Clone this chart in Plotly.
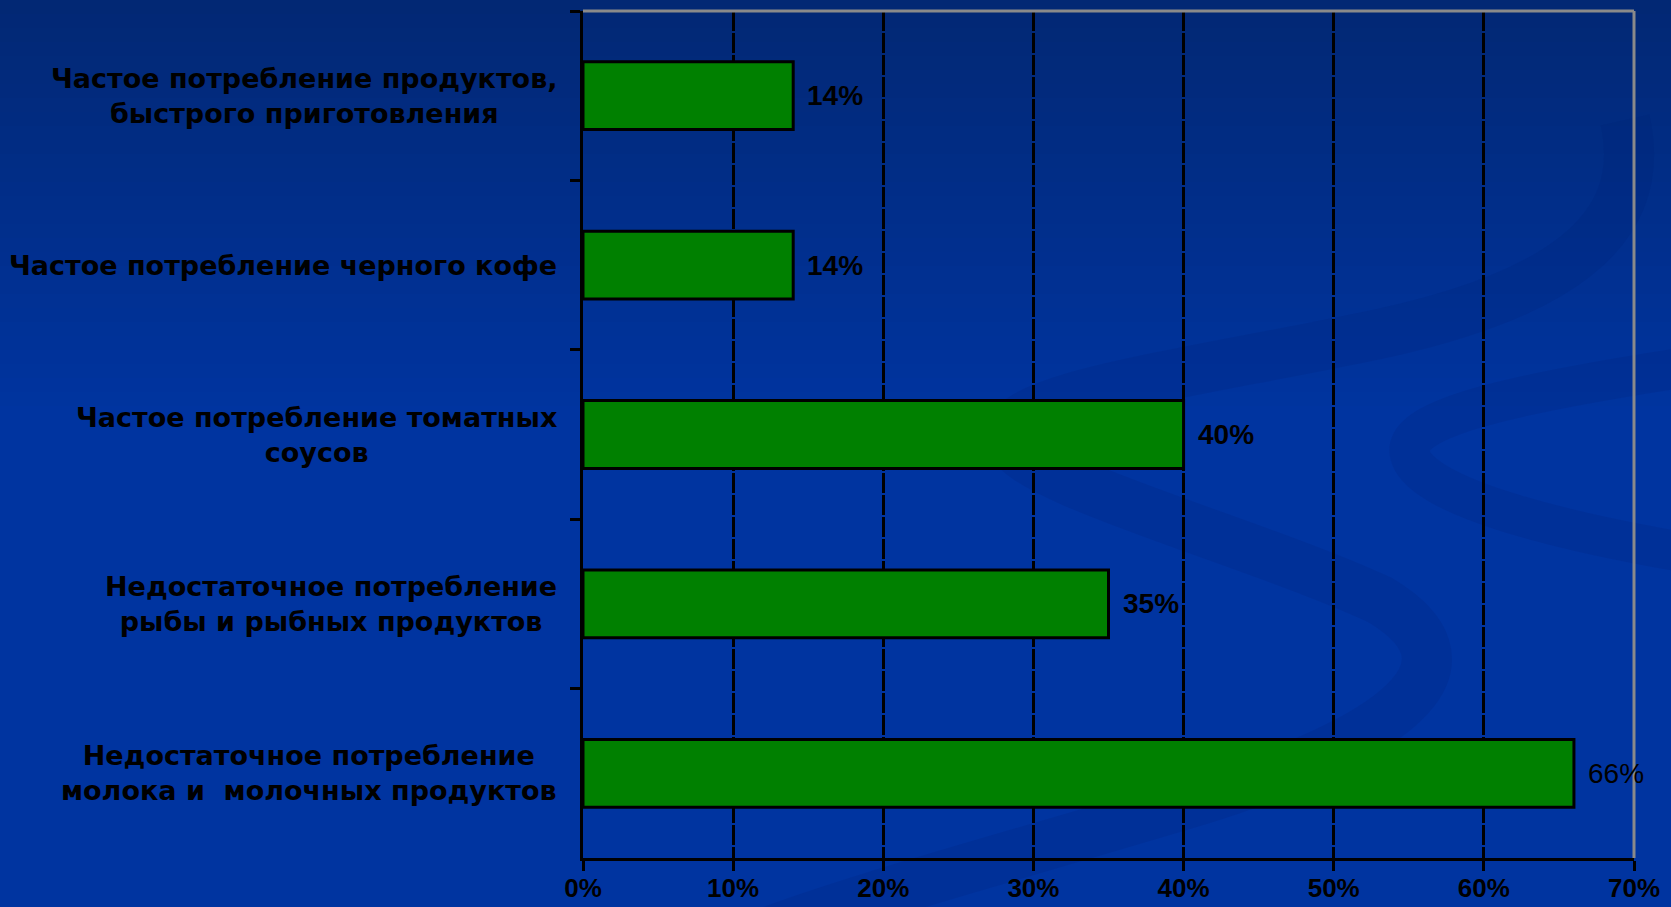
import plotly.graph_objects as go

# ---------------- data ----------------
categories = [
    "Частое потребление продуктов,<br>быстрого приготовления",
    "Частое потребление черного кофе",
    "Частое потребление томатных<br>соусов",
    "Недостаточное потребление<br>рыбы и рыбных продуктов",
    "Недостаточное потребление<br>молока и  молочных продуктов",
]
values = [14, 14, 40, 35, 66]
x_ticks = [0, 10, 20, 30, 40, 50, 60, 70]
x_tick_labels = ["0%", "10%", "20%", "30%", "40%", "50%", "60%", "70%"]

# ---------------- layout geometry ----------------
W, H = 1671, 907
L, R, T, B = 583, 1634, 11, 858


def pp(x, y):
    """pixel -> paper coords (for decorative background only)"""
    return (x - L) / (R - L), (B - y) / (B - T)


def path_from(points):
    s = "M {:.4f},{:.4f}".format(*pp(*points[0]))
    rest = points[1:]
    for i in range(0, len(rest), 3):
        a, b, c = rest[i:i + 3]
        s += " C {:.4f},{:.4f} {:.4f},{:.4f} {:.4f},{:.4f}".format(
            *pp(*a), *pp(*b), *pp(*c))
    return s


shapes = []
# background vertical gradient (dark top -> brighter blue)
top_c = (2, 40, 116)
mid_c = (0, 52, 160)
n = 30
for i in range(n):
    y0 = 0 + i * 420 / n
    y1 = y0 + 420 / n + 1
    t = i / (n - 1)
    c = tuple(int(round(top_c[k] + (mid_c[k] - top_c[k]) * t)) for k in range(3))
    x0p, y0p = pp(-5, y0)
    x1p, y1p = pp(W + 5, y1)
    shapes.append(dict(type="rect", xref="paper", yref="paper", x0=x0p, x1=x1p,
                       y0=y1p, y1=y0p, fillcolor="rgb(%d,%d,%d)" % c,
                       line=dict(width=0), layer="below"))

# decorative swooshes (subtle)
swoosh_col = "rgba(0,30,110,0.16)"
shapes.append(dict(type="path", xref="paper", yref="paper", layer="below",
                   path=path_from([(1625, 120),
                                   (1650, 230), (1560, 300), (1350, 340),
                                   (1150, 380), (1000, 400), (1010, 440),
                                   (1020, 480), (1250, 540), (1380, 600),
                                   (1480, 660), (1420, 730), (1200, 800),
                                   (1000, 860), (850, 900), (760, 935)]),
                   line=dict(color=swoosh_col, width=50)))
shapes.append(dict(type="path", xref="paper", yref="paper", layer="below",
                   path=path_from([(1700, 365),
                                   (1500, 395), (1400, 420), (1410, 455),
                                   (1420, 495), (1550, 530), (1700, 555)]),
                   line=dict(color=swoosh_col, width=40)))

# frame lines (top and right, grey)
shapes.append(dict(type="line", xref="paper", yref="paper", x0=0, x1=1, y0=1, y1=1,
                   line=dict(color="#8a8a8a", width=3), layer="above"))
shapes.append(dict(type="line", xref="paper", yref="paper", x0=1, x1=1, y0=0, y1=1,
                   line=dict(color="#8a8a8a", width=3), layer="above"))

fig = go.Figure()
fig.add_trace(go.Bar(
    x=values, y=categories, orientation="h",
    marker=dict(color="#008000", line=dict(color="black", width=3)),
    hoverinfo="skip",
))

annotations = []
for cat in categories:
    annotations.append(dict(
        xref="paper", yref="y", x=0, y=cat, xanchor="right", yanchor="middle",
        xshift=-24, text=cat, showarrow=False, align="center",
        font=dict(family="DejaVu Sans", size=27, color="black", weight="bold")))

label_weights = ["bold", "bold", "bold", "bold", "normal"]
for cat, v, wgt in zip(categories, values, label_weights):
    annotations.append(dict(
        xref="x", yref="y", x=v, y=cat, xanchor="left", yanchor="middle",
        xshift=12, text=f"{v}%", showarrow=False,
        font=dict(family="Liberation Sans", size=28, color="black", weight=wgt)))

fig.update_layout(
    width=W, height=H,
    margin=dict(l=L, r=W - R, t=T, b=H - B, pad=0, autoexpand=False),
    paper_bgcolor="rgb(0,52,160)",
    plot_bgcolor="rgba(0,0,0,0)",
    bargap=0.6,
    showlegend=False,
    shapes=shapes,
    annotations=annotations,
    xaxis=dict(
        range=[0, 70], tickvals=x_ticks, ticktext=x_tick_labels,
        ticks="outside", ticklen=10, tickwidth=3, tickcolor="black",
        showline=True, linecolor="black", linewidth=3,
        showgrid=True, gridcolor="black", gridwidth=3, griddash="20px,2px",
        zeroline=False, automargin=False, ticklabelstandoff=-5,
        tickfont=dict(family="Liberation Sans", size=26, color="black", weight="bold"),
        fixedrange=True,
    ),
    yaxis=dict(
        type="category", categoryorder="array", categoryarray=categories,
        autorange="reversed", tickson="boundaries",
        ticks="outside", ticklen=10, tickwidth=3, tickcolor="black",
        showticklabels=False, showline=True, linecolor="black", linewidth=3,
        showgrid=False, zeroline=False, fixedrange=True, automargin=False,
    ),
)

fig.write_html("out.html", config={"displayModeBar": False})
